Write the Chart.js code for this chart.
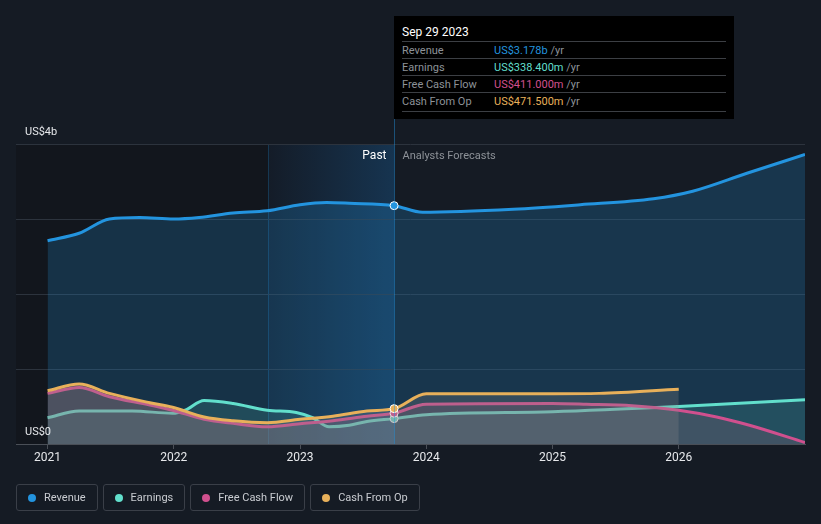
<!DOCTYPE html>
<html>
<head>
<meta charset="utf-8">
<script src="https://cdn.jsdelivr.net/npm/chart.js@4"></script>
<style>
    body { margin: 0; background: #151b24; font-family: Roboto, "Noto Sans", sans-serif; }
    #wrap { position: relative; width: 821px; height: 524px; }
    #tip {
        position: absolute; left: 394px; top: 16px; width: 340px; height: 103px;
        background: #000; color: #fff; font-size: 11px;
    }
    #tip .title { position: absolute; left: 8px; top: 9px; font-size: 12px; color: #fff; }
    #tip .row {
        position: absolute; left: 8px; width: 324px; height: 17px; line-height: 17px;
        border-top: 1px solid #3c3f44; color: #8d9298;
    }
    #tip .row span.v { position: absolute; left: 92px; }
    #tip .row span.u { color: #8d9298; }
    #tip .end { position: absolute; left: 8px; width: 324px; top: 95px; border-top: 1px solid #3c3f44; }
    #legend { position: absolute; left: 16px; top: 484px; display: flex; gap: 5px; }
    .item {
        height: 27px; border: 1px solid #3a3f48; border-radius: 3px; box-sizing: border-box;
        padding: 0 11px 0 11px; display: flex; align-items: center; color: #c9ccd1; font-size: 11px;
    }
    .dot { width: 8px; height: 8px; border-radius: 50%; margin-right: 8px; }
</style>
</head>
<body>
<div id="wrap">
    <canvas id="chart" width="821" height="524"></canvas>
    <div id="tip">
        <div class="title">Sep 29 2023</div>
        <div class="row" style="top:25px">Revenue<span class="v"><span style="color:#2394df">US$3.178b</span> <span class="u">/yr</span></span></div>
        <div class="row" style="top:42px">Earnings<span class="v"><span style="color:#62dfcc">US$338.400m</span> <span class="u">/yr</span></span></div>
        <div class="row" style="top:59px">Free Cash Flow<span class="v"><span style="color:#d0508e">US$411.000m</span> <span class="u">/yr</span></span></div>
        <div class="row" style="top:76px">Cash From Op<span class="v"><span style="color:#e8b05a">US$471.500m</span> <span class="u">/yr</span></span></div>
        <div class="end"></div>
    </div>
    <div id="legend"></div>
</div>
<script>
// 数据 (年份为小数年)
const revenueYears = [2021.0, 2021.25, 2021.49, 2021.73, 2022.0, 2022.2, 2022.47, 2022.74, 2023.0, 2023.21, 2023.39, 2023.745, 2023.97, 2024.69, 2025.22, 2025.8, 2026.11, 2026.54, 2027.0];
const revenueValues = [2.71, 2.81, 3.0, 3.02, 3.0, 3.02, 3.08, 3.11, 3.19, 3.22, 3.21, 3.178, 3.09, 3.13, 3.19, 3.27, 3.37, 3.61, 3.86];

const earningsYears = [2021.0, 2021.25, 2021.67, 2021.99, 2022.09, 2022.24, 2022.47, 2022.74, 2022.97, 2023.1, 2023.23, 2023.39, 2023.53, 2023.745, 2024.0, 2025.0, 2026.0, 2027.0];
const earningsValues = [0.35, 0.44, 0.44, 0.41, 0.45, 0.58, 0.54, 0.45, 0.42, 0.35, 0.23, 0.25, 0.3, 0.3384, 0.39, 0.43, 0.5, 0.59];

const fcfYears = [2021.0, 2021.25, 2021.49, 2021.81, 2021.99, 2022.24, 2022.47, 2022.74, 2023.0, 2023.26, 2023.53, 2023.745, 2024.0, 2025.0, 2025.27, 2025.63, 2026.0, 2026.3, 2026.56, 2027.0];
const fcfValues = [0.675, 0.755, 0.63, 0.52, 0.45, 0.33, 0.275, 0.23, 0.27, 0.31, 0.37, 0.411, 0.53, 0.54, 0.53, 0.51, 0.45, 0.36, 0.25, 0.02];

const cfoYears = [2021.0, 2021.25, 2021.49, 2021.81, 2021.99, 2022.24, 2022.47, 2022.74, 2023.0, 2023.26, 2023.53, 2023.745, 2024.0, 2025.0, 2025.37, 2026.0];
const cfoValues = [0.71, 0.8, 0.675, 0.55, 0.49, 0.36, 0.31, 0.285, 0.33, 0.37, 0.44, 0.4715, 0.67, 0.67, 0.675, 0.73];

const yearTicks = [2021, 2022, 2023, 2024, 2025, 2026];
const todayYear = 2023.745;
const bandStart = 2022.75;

const colors = {
    revenue: '#2394df',
    earnings: '#62dfcc',
    fcf: '#d0508e',
    cfo: '#e8b05a'
};

function points(xs, ys) {
    return xs.map((x, i) => ({ x: x, y: ys[i] }));
}

function markerRadius(ctx) {
    return ctx.raw && ctx.raw.x === todayYear ? 4 : 0;
}

function makeSet(label, xs, ys, color, fill, order) {
    return {
        label: label,
        data: points(xs, ys),
        borderColor: color,
        backgroundColor: fill,
        borderWidth: 3,
        fill: 'origin',
        cubicInterpolationMode: 'monotone',
        pointRadius: markerRadius,
        pointBackgroundColor: color,
        pointBorderColor: '#ffffff',
        pointBorderWidth: 1,
        order: order
    };
}

// 背景区域 + 标注
const regionPlugin = {
    id: 'regions',
    beforeDraw(chart) {
        const { ctx, chartArea, scales } = chart;
        const xb = scales.x.getPixelForValue(bandStart);
        const xt = scales.x.getPixelForValue(todayYear);
        ctx.save();
        ctx.fillStyle = '#12161d';
        ctx.fillRect(chartArea.left, chartArea.top, xb - chartArea.left, chartArea.height);
        const g = ctx.createLinearGradient(xb, 0, xt, 0);
        g.addColorStop(0, 'rgba(20,28,40,1)');
        g.addColorStop(1, 'rgba(22,52,80,1)');
        ctx.fillStyle = g;
        ctx.fillRect(xb, chartArea.top, xt - xb, chartArea.height);
        ctx.strokeStyle = 'rgba(35,148,223,0.25)';
        ctx.lineWidth = 1;
        ctx.beginPath();
        ctx.moveTo(Math.round(xb) + 0.5, chartArea.top);
        ctx.lineTo(Math.round(xb) + 0.5, chartArea.bottom);
        ctx.stroke();
        ctx.restore();
    },
    afterDatasetsDraw(chart) {
        const { ctx, chartArea, scales } = chart;
        const xt = Math.round(scales.x.getPixelForValue(todayYear)) + 0.5;
        ctx.save();
        ctx.strokeStyle = 'rgba(35,148,223,0.45)';
        ctx.lineWidth = 1;
        ctx.beginPath();
        ctx.moveTo(xt, 119);
        ctx.lineTo(xt, chartArea.bottom);
        ctx.stroke();
        ctx.textBaseline = 'middle';
        ctx.textAlign = 'right';
        ctx.fillStyle = '#ffffff';
        ctx.font = '12px Roboto';
        ctx.fillText('Past', xt - 8, chartArea.top + 12);
        ctx.textAlign = 'left';
        ctx.fillStyle = '#8d9298';
        ctx.font = '11px Roboto';
        ctx.fillText('Analysts Forecasts', xt + 8, chartArea.top + 12);
        // y 轴标签
        ctx.fillStyle = '#e6e8eb';
        ctx.fillText('US$4b', chartArea.left + 9, scales.y.getPixelForValue(4) - 12);
        ctx.fillText('US$0', chartArea.left + 9, scales.y.getPixelForValue(0) - 12);
        ctx.restore();
    }
};

new Chart(document.getElementById('chart'), {
    type: 'line',
    data: {
        datasets: [
            makeSet('Revenue', revenueYears, revenueValues, colors.revenue, 'rgba(35,148,223,0.22)', 4),
            makeSet('Earnings', earningsYears, earningsValues, colors.earnings, 'rgba(98,223,204,0.15)', 3),
            makeSet('Free Cash Flow', fcfYears, fcfValues, colors.fcf, 'rgba(170,100,125,0.22)', 2),
            makeSet('Cash From Op', cfoYears, cfoValues, colors.cfo, 'rgba(140,140,140,0.26)', 1)
        ]
    },
    options: {
        responsive: false,
        animation: false,
        layout: { padding: { left: 16, right: 16, top: 144, bottom: 56 } },
        plugins: { legend: { display: false }, tooltip: { enabled: false } },
        scales: {
            x: {
                type: 'linear',
                min: 2020.75,
                max: 2027,
                afterBuildTicks: (scale) => { scale.ticks = yearTicks.map(v => ({ value: v })); },
                afterFit: (scale) => { scale.height = 24; },
                grid: { drawOnChartArea: false, color: '#4a4f57', tickLength: 5 },
                border: { color: '#4a4f57' },
                ticks: {
                    color: '#e6e8eb',
                    font: { family: 'Roboto', size: 12 },
                    padding: 2,
                    maxRotation: 0,
                    callback: (v) => String(v)
                }
            },
            y: {
                min: 0,
                max: 4,
                afterFit: (scale) => { scale.width = 0; },
                grid: { color: '#2c333d', drawTicks: false },
                border: { display: false },
                ticks: { display: false, stepSize: 1 }
            }
        }
    },
    plugins: [regionPlugin]
});

// 图例
const legendItems = [
    ['Revenue', colors.revenue],
    ['Earnings', colors.earnings],
    ['Free Cash Flow', colors.fcf],
    ['Cash From Op', colors.cfo]
];
document.getElementById('legend').innerHTML = legendItems.map(item => `
    <div class="item"><span class="dot" style="background:${item[1]}"></span>${item[0]}</div>
`).join('');
</script>
</body>
</html>
